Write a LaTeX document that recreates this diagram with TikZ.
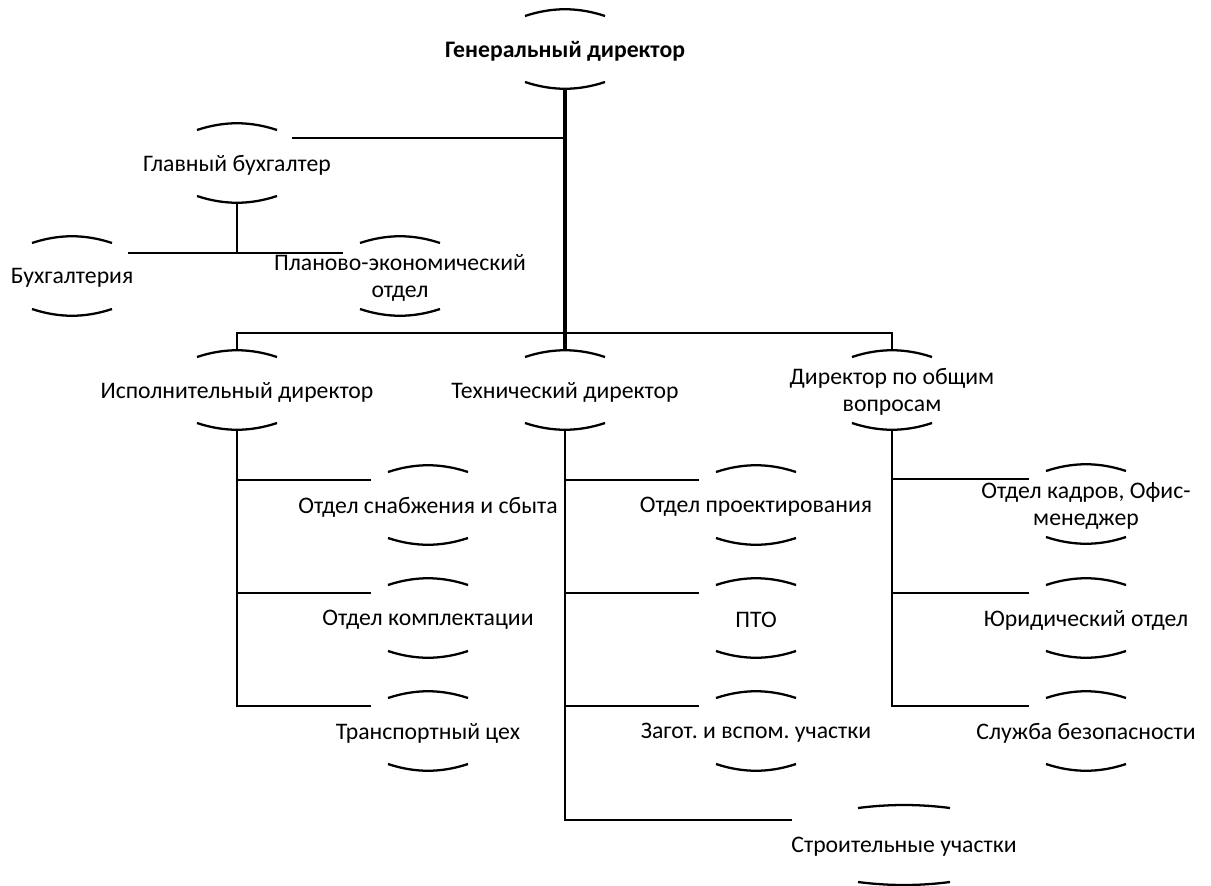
\documentclass[tikz,border=0pt]{standalone}
\usepackage{fontspec}
\setmainfont{Carlito}
\usetikzlibrary{calc}
\frenchspacing

\begin{document}
\begin{tikzpicture}[x=0.02cm,y=-0.02cm,
        unit/.style={align=center,inner sep=0pt,font=\fontsize{13.5}{15.5}\selectfont},
        line/.style={line width=1.4pt},
        trunk/.style={line width=2.3pt},
        capline/.style={line width=1.3pt}
      ]
        \useasboundingbox (0,0) rectangle (1211,886);

        \node[unit,font=\fontsize{13.5}{15.5}\selectfont\bfseries] (gd) at (565,51) {Генеральный директор};
        \node[unit] (gb) at (237,165) {Главный бухгалтер};
        \node[unit] (buh) at (72,278) {Бухгалтерия};
        \node[unit] (pe) at (400,278) {Планово-экономический\\отдел};

        \node[unit] (isp) at (237,392) {Исполнительный директор};
        \node[unit] (teh) at ($(isp)+(328,0)$) {Технический директор};
        \node[unit] (obsh) at ($(teh)+(327,0)$) {Директор по общим\\вопросам};

        \node[unit] (c11) at (428,507) {Отдел снабжения и сбыта};
        \node[unit] (c12) at ($(c11)+(0,113)$) {Отдел комплектации};
        \node[unit] (c13) at ($(c12)+(0,113)$) {Транспортный цех};
        \node[unit] (c21) at (756,507) {Отдел проектирования};
        \node[unit] (c22) at ($(c21)+(0,113)$) {ПТО};
        \node[unit] (c23) at ($(c22)+(0,113)$) {Загот. и вспом. участки};
        \node[unit] (c24) at (904,847) {Строительные участки};
        \node[unit] (c31) at (1086,506) {Отдел кадров, Офис-\\менеджер};
        \node[unit] (c32) at (1086,620) {Юридический отдел};
        \node[unit] (c33) at ($(c32)+(0,113)$) {Служба безопасности};

        % caps above and below every unit
        \foreach \n in {gd,gb,buh,pe,isp,teh,obsh,c11,c12,c13,c21,c22,c23,c31,c32,c33}{
          \draw[capline] ($(\n)+(-40,-35)$) .. controls ($(\n)+(-13,-44)$) and ($(\n)+(13,-44)$) .. ($(\n)+(40,-35)$);
          \draw[capline] ($(\n)+(-40,31)$) .. controls ($(\n)+(-13,40)$) and ($(\n)+(13,40)$) .. ($(\n)+(40,31)$);
        }
        \draw[capline] ($(c24)+(-46,-39)$) .. controls ($(c24)+(-15,-43)$) and ($(c24)+(15,-43)$) .. ($(c24)+(46,-39)$);
        \draw[capline] ($(c24)+(-46,35)$) .. controls ($(c24)+(-15,39)$) and ($(c24)+(15,39)$) .. ($(c24)+(46,35)$);

        % connectors
        \draw[trunk] ($(gd)+(0,37)$) -- ($(teh)+(0,-42)$);
        \coordinate (gbin) at ($(gb)+(55,-27)$);
        \draw[line] (gbin) -- (gbin -| gd);
        \draw[line] ($(gb)+(0,38)$) -- ($(gb)+(0,88)$);
        \draw[line] ($(buh)+(56,-25)$) -- ($(pe)+(-57,-25)$);
        \draw[line] ($(isp)+(0,-42)$) |- ($(obsh)+(0,-59)$) -- ($(obsh)+(0,-42)$);

        \foreach \p/\k in {isp/c11,isp/c12,isp/c13,teh/c21,teh/c22,teh/c23,obsh/c31,obsh/c32,obsh/c33}{
          \draw[line] ($(\p)+(0,38)$) |- ($(\k)+(-57,-27)$);
        }
        \draw[line] ($(teh)+(0,38)$) |- ($(c24)+(-112,-27)$);
      \end{tikzpicture}
\end{document}
